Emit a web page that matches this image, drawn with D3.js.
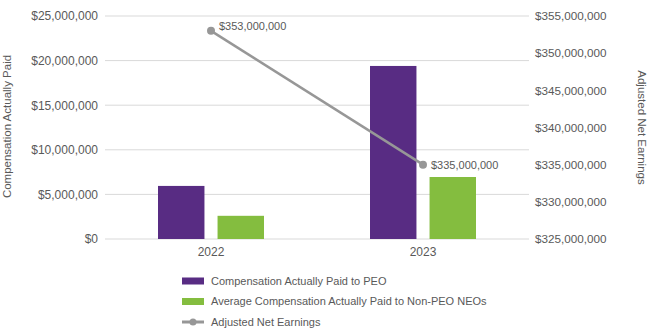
<!DOCTYPE html>
<html>
<head>
<meta charset="utf-8">
<script src="https://cdn.jsdelivr.net/npm/d3@7"></script>
<style>
  body { margin: 0; background: #fff; }
  text { font-family: "Liberation Sans", Arial, sans-serif; fill: #595959; }
</style>
</head>
<body>
<div id="chart-area"></div>
<script>
const years = ["2022", "2023"];
const peoPay = [5950000, 19400000];
const neoPay = [2600000, 6950000];
const netEarnings = [353000000, 335000000];
const leftTicks = [0, 5000000, 10000000, 15000000, 20000000, 25000000];
const rightTicks = [325000000, 330000000, 335000000, 340000000, 345000000, 350000000, 355000000];
const seriesNames = ["Compensation Actually Paid to PEO", "Average Compensation Actually Paid to Non-PEO NEOs", "Adjusted Net Earnings"];

const W = 651, H = 331;
const margin = {top: 16, right: 122, bottom: 92, left: 105};
const width = W - margin.left - margin.right;
const height = H - margin.top - margin.bottom;

const purple = "#582c83", green = "#84bd3f", grey = "#979797";
const fmt = d => "$" + d3.format(",")(d);

const svg = d3.select('#chart-area')
  .append('svg')
  .attr('width', W)
  .attr('height', H);

const g = svg.append('g')
  .attr('transform', `translate(${margin.left}, ${margin.top})`);

// scales
const x = d3.scaleBand().domain(years).range([0, width]);
const xs = d3.scaleBand().domain(["peo", "neo"]).range([53, 159]).paddingInner(0.22);
const yL = d3.scaleLinear().domain([0, 25000000]).range([height, 0]);
const yR = d3.scaleLinear().domain([325000000, 355000000]).range([height, 0]);

// gridlines
g.append('g')
  .selectAll('line')
  .data(leftTicks)
  .enter().append('line')
  .attr('x1', 0).attr('x2', width)
  .attr('y1', d => yL(d)).attr('y2', d => yL(d))
  .attr('stroke', '#d9d9d9');

// axes
const yAxisL = d3.axisLeft(yL).tickValues(leftTicks).tickFormat(fmt).tickSize(0).tickPadding(7);
g.append('g').call(yAxisL)
  .call(a => a.select('.domain').remove())
  .selectAll('text').style('font-size', '12px').attr('fill', '#595959');

const yAxisR = d3.axisRight(yR).tickValues(rightTicks).tickFormat(fmt).tickSize(0).tickPadding(6);
g.append('g').attr('transform', `translate(${width}, 0)`).call(yAxisR)
  .call(a => a.select('.domain').remove())
  .selectAll('text').style('font-size', '11.7px').attr('fill', '#595959');

const xAxis = d3.axisBottom(x).tickSize(0).tickPadding(8);
g.append('g').attr('transform', `translate(0, ${height})`).call(xAxis)
  .call(a => a.select('.domain').remove())
  .selectAll('text').style('font-size', '12px').attr('fill', '#595959');

// axis titles
svg.append('text')
  .attr('transform', `translate(11, ${margin.top + height / 2 - 1}) rotate(-90)`)
  .attr('text-anchor', 'middle')
  .style('font-size', '11.5px')
  .text('Compensation Actually Paid');

svg.append('text')
  .attr('transform', `translate(638, ${margin.top + height / 2}) rotate(90)`)
  .attr('text-anchor', 'middle')
  .style('font-size', '11.5px')
  .text('Adjusted Net Earnings');

// bars
const groups = g.selectAll('.year')
  .data(years)
  .enter().append('g')
  .attr('transform', d => `translate(${x(d)}, 0)`);

groups.append('rect')
  .attr('x', xs('peo'))
  .attr('width', xs.bandwidth())
  .attr('y', (d, i) => yL(peoPay[i]))
  .attr('height', (d, i) => height - yL(peoPay[i]))
  .attr('fill', purple);

groups.append('rect')
  .attr('x', xs('neo'))
  .attr('width', xs.bandwidth())
  .attr('y', (d, i) => yL(neoPay[i]))
  .attr('height', (d, i) => height - yL(neoPay[i]))
  .attr('fill', green);

// line
const cx = d => x(d) + x.bandwidth() / 2;
const line = d3.line()
  .x((d, i) => cx(years[i]))
  .y(d => yR(d));

g.append('path')
  .datum(netEarnings)
  .attr('d', line)
  .attr('fill', 'none')
  .attr('stroke', grey)
  .attr('stroke-width', 2.5);

g.selectAll('.pt')
  .data(netEarnings)
  .enter().append('circle')
  .attr('cx', (d, i) => cx(years[i]))
  .attr('cy', d => yR(d))
  .attr('r', 4)
  .attr('fill', grey);

g.selectAll('.lbl')
  .data(netEarnings)
  .enter().append('text')
  .attr('x', (d, i) => cx(years[i]) + 8)
  .attr('y', d => yR(d))
  .attr('dy', (d, i) => i === 0 ? '-0.1em' : '0.35em')
  .style('font-size', '11px')
  .text(fmt);

// legend
const legend = svg.append('g').attr('transform', 'translate(182, 281)');
seriesNames.forEach((name, i) => {
  const row = legend.append('g').attr('transform', `translate(0, ${i * 20.5})`);
  if (i < 2) {
    row.append('rect').attr('x', 0).attr('y', -3.5).attr('width', 22).attr('height', 7)
      .attr('fill', i === 0 ? purple : green);
  } else {
    row.append('line').attr('x1', 0).attr('x2', 22).attr('y1', 0).attr('y2', 0)
      .attr('stroke', grey).attr('stroke-width', 3);
    row.append('circle').attr('cx', 11).attr('cy', 0).attr('r', 3.5).attr('fill', grey);
  }
  row.append('text').attr('x', 29).attr('y', 0).attr('dy', '0.35em')
    .style('font-size', '11px').text(name);
});
</script>
</body>
</html>
